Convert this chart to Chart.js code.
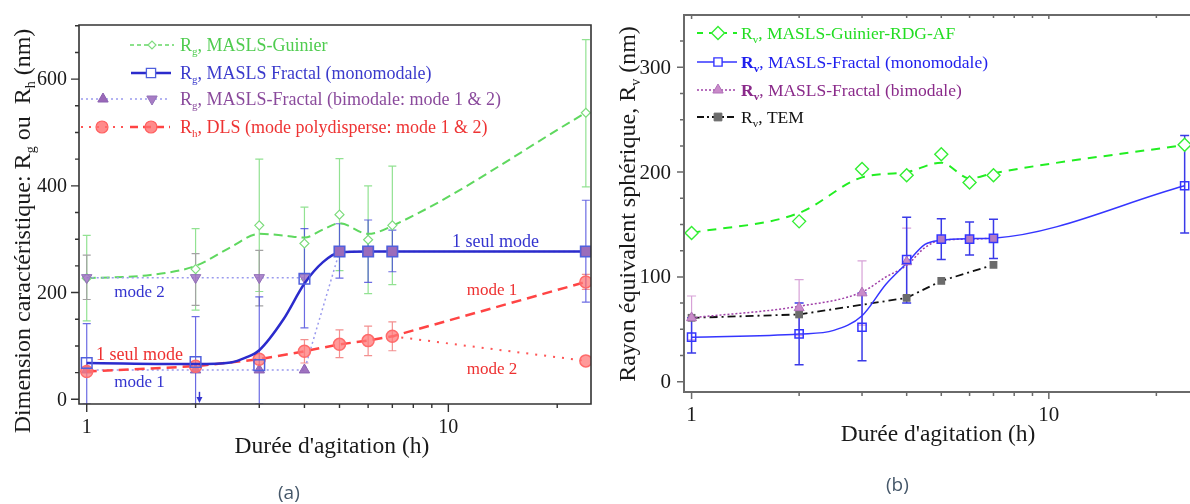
<!DOCTYPE html>
<html>
<head>
<meta charset="utf-8">
<script src="https://cdn.jsdelivr.net/npm/chart.js@4"></script>
<style>
  html, body { margin: 0; padding: 0; background: #fff; overflow: hidden; }
  body { width: 1190px; height: 504px; position: relative; }
  #wa { position: absolute; left: 0; top: 0; width: 600px; height: 504px; }
  #wb { position: absolute; left: 600px; top: 0; width: 600px; height: 504px; }
  .cap { position: absolute; font-family: 'Open Sans', sans-serif; font-size: 19px; color: #46586a; }
</style>
</head>
<body>
<div id="wa"><canvas id="ca"></canvas></div>
<div id="wb"><canvas id="cb"></canvas></div>
<div class="cap" style="left:278px;top:479px">(a)</div>
<div class="cap" style="left:886px;top:471px">(b)</div>

<script>
// agitation times (h)
const hours = [1, 2, 3, 4, 5, 6, 7, 24];
const xTickLabels = [1, 10];
const xMinorTicks = [2, 3, 4, 5, 6, 7, 8, 9, 20];

// ---- panel (a) ----
const aYTicks = [0, 200, 400, 600];
const aGuinier   = [227, 244, 326, 292, 346, 299, 326, 537];
const aGuinierHi = [307, 320, 450, 360, 451, 400, 437, 674];
const aGuinierLo = [147, 167, 202, 224, 241, 198, 215, 398];
const aGuinierCurveX = [1, 1.5, 2, 2.5, 3, 3.5, 4, 4.5, 5, 6, 7, 24];
const aGuinierCurve  = [227, 233, 250, 285, 310, 307, 303, 318, 330, 310, 325, 537];

const aFractal   = [68, 70, 64, 226, 277, 277, 277, 277];
const aFractalHi = [142, 155, 192, 320, 329, 336, 317, 373];
const aFractalLo = [-9, -9, -9, 134, 227, 219, 239, 182];
const aFractalCurveX = [1, 2, 2.5, 2.75, 3, 3.5, 4, 4.5, 5, 6, 7, 24];
const aFractalCurve  = [68, 66, 69, 78, 92, 150, 217, 257, 275, 277, 277, 277];

const aBiHours = [1, 2, 3, 4];
const aBiMode1 = [55, 55, 55, 55];
const aBiMode2 = [228, 228, 228, 228];
const aBiMode2Hi = [270, 273, 279, null];
const aBiMode2Lo = [187, 176, 175, null];
const aBiSingleHours = [5, 6, 7, 24];
const aBiSingle = [277, 277, 277, 277];

const aDlsMode1 = [52, 62, 75, 90, 103, 110, 118, 220];
const aDlsHi = [null, null, null, 112, 130, 137, 145, 234];
const aDlsLo = [null, null, null, 68, 78, 82, 91, 206];
const aDlsMode2Hours = [7, 24];
const aDlsMode2 = [118, 72];

// ---- panel (b) ----
const bYTicks = [0, 100, 200, 300];
const bGuinier = [142, 153, 203, 197, 217, 190, 197, 226];
const bGuinierCurve = [142, 161, 195, 200, 209, 194, 199, 226];

const bFractal   = [42.5, 45.7, 52, 116.6, 136, 136, 136.7, 187];
const bFractalHi = [61, 75, 84.7, 157, 155.6, 152.4, 155, 235];
const bFractalLo = [27.5, 16.3, 20, 75, 116.6, 120.8, 117.6, 142];
const bFractalCurveX = [1, 2, 2.5, 3, 3.5, 4, 4.5, 5, 6, 7, 24];
const bFractalCurve  = [42.5, 45.5, 49, 63, 93, 113, 131, 135, 136.5, 137, 187];

const bBiHours = [1, 2, 3, 4];
const bBimodal   = [61, 70.6, 84.7, 114.4];
const bBimodalHi = [81.8, 97.4, 115.3, 146.6];
const bBimodalLo = [40, 44, 54, 82];
const bBiCurveX = [1, 2, 3, 3.5, 4, 4.5, 5, 6, 7];
const bBiCurve  = [61, 72, 85.6, 100, 111, 128, 135, 136, 137];
const bBiSingleHours = [5, 6, 7];
const bBiSingle = [136, 136, 136.7];

const bTemHours = [1, 2, 4, 5, 7];
const bTem = [61, 64.2, 80, 96.2, 111.5];

const SERIF = "'Liberation Serif', 'Times New Roman', serif";

function pts(xs, ys) {
    return xs.map((x, i) => ({ x: x, y: ys[i] }));
}

function drawMarker(ctx, m, x, y) {
    ctx.save();
    ctx.setLineDash([]);
    ctx.fillStyle = m.fill;
    ctx.strokeStyle = m.stroke;
    ctx.lineWidth = m.lw || 1.5;
    const r = m.r;
    ctx.beginPath();
    if (m.style === 'circle') {
        ctx.arc(x, y, r, 0, Math.PI * 2);
    } else if (m.style === 'rect') {
        const s = r * Math.SQRT1_2;
        ctx.rect(x - s, y - s, 2 * s, 2 * s);
    } else if (m.style === 'rectRot') {
        ctx.moveTo(x - r, y); ctx.lineTo(x, y - r); ctx.lineTo(x + r, y); ctx.lineTo(x, y + r); ctx.closePath();
    } else {
        const d = m.style === 'triDown' ? -1 : 1;
        ctx.moveTo(x, y - d * r); ctx.lineTo(x + r * 0.866, y + d * r / 2); ctx.lineTo(x - r * 0.866, y + d * r / 2); ctx.closePath();
    }
    ctx.fill();
    ctx.stroke();
    ctx.restore();
}

// text with subscripts ('s') and bold ('b')
function rich(ctx, parts, x, y, size, color, center) {
    const font = k => (k.includes('b') ? 'bold ' : '') + (k.includes('s') ? Math.round(size * 0.6) : size) + 'px ' + SERIF;
    let w = 0;
    parts.forEach(p => { ctx.font = font(p[1]); w += ctx.measureText(p[0]).width; });
    let cx = center ? x - w / 2 : x;
    ctx.fillStyle = color;
    ctx.textAlign = 'left';
    ctx.textBaseline = 'alphabetic';
    parts.forEach(p => {
        ctx.font = font(p[1]);
        ctx.fillText(p[0], cx, p[1].includes('s') ? y + size * 0.22 : y);
        cx += ctx.measureText(p[0]).width;
    });
}

const errorBars = {
    id: 'errorBars',
    beforeDatasetsDraw(chart) {
        const { ctx, chartArea: a, scales: { x, y } } = chart;
        ctx.save();
        ctx.beginPath();
        ctx.rect(a.left, a.top, a.right - a.left, a.bottom - a.top);
        ctx.clip();
        chart.data.datasets.slice().reverse().forEach(ds => {
            if (!ds.errHi) return;
            ctx.strokeStyle = ds.errColor;
            ctx.lineWidth = ds.errWidth || 1.2;
            const cap = ds.errCap || 4;
            ds.data.forEach((p, i) => {
                const hi = ds.errHi[i], lo = ds.errLo[i];
                if (hi == null) return;
                const px = x.getPixelForValue(p.x);
                const y1 = y.getPixelForValue(hi), y2 = y.getPixelForValue(lo);
                ctx.beginPath();
                ctx.moveTo(px, y1); ctx.lineTo(px, y2);
                ctx.moveTo(px - cap, y1); ctx.lineTo(px + cap, y1);
                ctx.moveTo(px - cap, y2); ctx.lineTo(px + cap, y2);
                ctx.stroke();
            });
        });
        ctx.restore();
    }
};

function framePlugin(o) {
    return {
        id: 'frame',
        afterDraw(chart) {
            const { ctx, chartArea: a, scales: { x, y } } = chart;
            ctx.save();
            ctx.strokeStyle = o.color;
            ctx.lineWidth = o.width;
            ctx.lineCap = 'square';
            ctx.beginPath();
            ctx.moveTo(a.right, a.top); ctx.lineTo(a.left, a.top); ctx.lineTo(a.left, a.bottom); ctx.lineTo(a.right, a.bottom);
            if (o.box) ctx.lineTo(a.right, a.top);
            ctx.stroke();

            ctx.lineCap = 'butt';
            ctx.lineWidth = o.tickWidth;
            ctx.beginPath();
            xTickLabels.forEach(v => {
                const p = x.getPixelForValue(v);
                ctx.moveTo(p, a.bottom); ctx.lineTo(p, a.bottom + o.major);
                if (o.topTicks) { ctx.moveTo(p, a.top); ctx.lineTo(p, a.top + o.topTicks + 1); }
            });
            xMinorTicks.forEach(v => {
                const p = x.getPixelForValue(v);
                ctx.moveTo(p, a.bottom); ctx.lineTo(p, a.bottom + o.minor);
                if (o.topTicks) { ctx.moveTo(p, a.top); ctx.lineTo(p, a.top + o.topTicks); }
            });
            o.yTicks.forEach(v => {
                const p = y.getPixelForValue(v);
                ctx.moveTo(a.left, p); ctx.lineTo(a.left - o.major, p);
            });
            for (let v = o.yMinorStep; v < y.max; v += o.yMinorStep) {
                if (o.yTicks.includes(v)) continue;
                const p = y.getPixelForValue(v);
                ctx.moveTo(a.left, p); ctx.lineTo(a.left - o.minor, p);
            }
            ctx.stroke();

            ctx.fillStyle = '#1a1a1a';
            ctx.font = o.tickFont + 'px ' + SERIF;
            ctx.textAlign = 'center';
            ctx.textBaseline = 'alphabetic';
            xTickLabels.forEach(v => ctx.fillText(String(v), x.getPixelForValue(v), o.xLabelY));
            ctx.textAlign = 'right';
            ctx.textBaseline = 'middle';
            o.yTicks.forEach(v => ctx.fillText(String(v), a.left - o.yLabelGap, y.getPixelForValue(v) + 1));

            rich(ctx, o.xTitle, (a.left + a.right) / 2 + o.xTitleDx, o.xTitleY, o.titleSize, '#1a1a1a', true);
            ctx.save();
            ctx.translate(o.yTitleX, o.yTitleY);
            ctx.rotate(-Math.PI / 2);
            rich(ctx, o.yTitle, 0, 0, o.yTitleSize, '#1a1a1a', true);
            ctx.restore();
            ctx.restore();
        }
    };
}

function legendPlugin(rows, size) {
    return {
        id: 'rowsLegend',
        afterDraw(chart) {
            const ctx = chart.ctx;
            rows.forEach(row => {
                row.samples.forEach(s => {
                    ctx.save();
                    ctx.strokeStyle = s.color;
                    ctx.lineWidth = s.width;
                    ctx.setLineDash(s.dash);
                    ctx.beginPath();
                    ctx.moveTo(s.x1, row.y); ctx.lineTo(s.x2, row.y);
                    ctx.stroke();
                    ctx.restore();
                    drawMarker(ctx, s.marker, s.mx, row.y);
                });
                rich(ctx, row.text, row.tx, row.y + size * 0.33, size, row.color, false);
            });
        }
    };
}

const xTitle = [["Durée d'agitation (h)", '']];

// ---------------- panel (a) ----------------
const aNotes = [
    { text: '1 seul mode', x: 13.5, y: 294, color: '#3434cf', size: 18 },
    { text: 'mode 2', x: 1.40, y: 201, color: '#3434cf', size: 17 },
    { text: '1 seul mode', x: 1.40, y: 83, color: '#ee3030', size: 18 },
    { text: 'mode 1', x: 1.40, y: 31, color: '#3434cf', size: 17 },
    { text: 'mode 1', x: 13.2, y: 203, color: '#ee3030', size: 17 },
    { text: 'mode 2', x: 13.2, y: 55, color: '#ee3030', size: 17 }
];

const notesPlugin = {
    id: 'notes',
    afterDatasetsDraw(chart) {
        const { ctx, scales: { x, y } } = chart;
        ctx.save();
        ctx.textAlign = 'center';
        ctx.textBaseline = 'middle';
        aNotes.forEach(n => {
            ctx.font = n.size + 'px ' + SERIF;
            ctx.fillStyle = n.color;
            ctx.fillText(n.text, x.getPixelForValue(n.x), y.getPixelForValue(n.y));
        });
        // small arrow near 2 h
        const ax = x.getPixelForValue(2.05);
        const y1 = y.getPixelForValue(14), y2 = y.getPixelForValue(-7);
        ctx.strokeStyle = '#3434cf';
        ctx.fillStyle = '#3434cf';
        ctx.lineWidth = 1.5;
        ctx.beginPath(); ctx.moveTo(ax, y1); ctx.lineTo(ax, y2 - 4); ctx.stroke();
        ctx.beginPath(); ctx.moveTo(ax - 3, y2 - 6); ctx.lineTo(ax + 3, y2 - 6); ctx.lineTo(ax, y2); ctx.closePath(); ctx.fill();
        ctx.restore();
    }
};

const aLegendRows = [
    { y: 45, tx: 180, color: '#4fcc4f', text: [['R', ''], ['g', 's'], [', MASLS-Guinier', '']],
      samples: [{ x1: 130, x2: 174, dash: [4, 3], color: '#66d866', width: 1.5, mx: 152,
                  marker: { style: 'rectRot', r: 4, fill: '#fff', stroke: '#80dc80', lw: 1.2 } }] },
    { y: 73, tx: 180, color: '#3a3acc', text: [['R', ''], ['g', 's'], [', MASLS Fractal (monomodale)', '']],
      samples: [{ x1: 131, x2: 171, dash: [], color: '#2b2bcc', width: 2.5, mx: 151,
                  marker: { style: 'rect', r: 6.5, fill: '#fff', stroke: '#5060dd', lw: 1.3 } }] },
    { y: 99, tx: 180, color: '#8a4a9c', text: [['R', ''], ['g', 's'], [', MASLS-Fractal (bimodale: mode 1 & 2)', '']],
      samples: [{ x1: 81, x2: 124, dash: [2, 3], color: '#9a9aee', width: 1.5, mx: 103,
                  marker: { style: 'triUp', r: 6, fill: '#9a68b8', stroke: '#8a60b0', lw: 1 } },
                { x1: 130, x2: 170, dash: [2, 3], color: '#9a9aee', width: 1.5, mx: 152,
                  marker: { style: 'triDown', r: 6, fill: '#a77cc4', stroke: '#9270b8', lw: 1 } }] },
    { y: 127, tx: 180, color: '#ee3333', text: [['R', ''], ['h', 's'], [', DLS (mode polydisperse: mode 1 & 2)', '']],
      samples: [{ x1: 81, x2: 124, dash: [2, 6], color: '#ff5555', width: 2, mx: 102,
                  marker: { style: 'circle', r: 6, fill: 'rgba(255,110,110,0.8)', stroke: '#ff6060', lw: 1.2 } },
                { x1: 130, x2: 170, dash: [8, 5], color: '#ff4444', width: 2.5, mx: 151,
                  marker: { style: 'circle', r: 6, fill: 'rgba(255,110,110,0.8)', stroke: '#ff6060', lw: 1.2 } }] }
];

new Chart(document.getElementById('ca').getContext('2d'), {
    type: 'scatter',
    data: {
        datasets: [
            {
                data: pts(hours, aFractal), pointStyle: 'rect', pointRadius: 7.5, pointBorderWidth: 1.5,
                pointBorderColor: '#5060dd', pointBackgroundColor: 'rgba(255,255,255,0)',
                errHi: aFractalHi, errLo: aFractalLo, errColor: 'rgba(70,70,220,0.8)', errCap: 4
            },
            {
                data: pts(aBiSingleHours, aBiSingle), pointStyle: 'rect', pointRadius: 7, pointBorderWidth: 1,
                pointBorderColor: '#7e57b0', pointBackgroundColor: '#9b6cbb'
            },
            {
                data: pts(aFractalCurveX, aFractalCurve), showLine: true, pointRadius: 0,
                borderColor: '#2b2bcc', borderWidth: 2.5, cubicInterpolationMode: 'monotone'
            },
            {
                data: pts(hours, aDlsMode1), showLine: true, borderColor: '#ff4444', borderWidth: 2.5, borderDash: [10, 6],
                pointStyle: 'circle', pointRadius: 6, pointBorderWidth: 1.5,
                pointBackgroundColor: 'rgba(255,120,120,0.75)', pointBorderColor: '#ff6b6b',
                errHi: aDlsHi, errLo: aDlsLo, errColor: '#f39090'
            },
            {
                data: pts(aDlsMode2Hours, aDlsMode2), showLine: true, borderColor: '#ff5555', borderWidth: 2, borderDash: [2, 7],
                pointStyle: 'circle', pointRadius: [0, 6], pointBorderWidth: 1.5,
                pointBackgroundColor: 'rgba(255,120,120,0.75)', pointBorderColor: '#ff6b6b'
            },
            {
                data: pts(aBiHours, aBiMode2), showLine: true, borderColor: '#9a9aee', borderWidth: 1.5, borderDash: [2, 3],
                pointStyle: 'triangle', pointRotation: 180, pointRadius: 6, pointBorderWidth: 1,
                pointBackgroundColor: 'rgba(160,115,195,0.85)', pointBorderColor: '#9270b8',
                errHi: aBiMode2Hi, errLo: aBiMode2Lo, errColor: '#a3a3a3'
            },
            {
                data: pts(aBiHours.concat(aBiSingleHours), aBiMode1.concat(aBiSingle)), showLine: true,
                borderColor: '#9a9aee', borderWidth: 1.5, borderDash: [2, 3],
                pointStyle: 'triangle', pointRadius: [6, 6, 6, 6, 0, 0, 0, 0], pointBorderWidth: 1,
                pointBackgroundColor: 'rgba(150,100,185,0.9)', pointBorderColor: '#8a60b0'
            },
            {
                data: pts(hours, aGuinier), pointStyle: 'rectRot', pointRadius: 4.5, pointBorderWidth: 1.2,
                pointBorderColor: '#7cdc7c', pointBackgroundColor: '#fff',
                errHi: aGuinierHi, errLo: aGuinierLo, errColor: '#92e292', errCap: 4
            },
            {
                data: pts(aGuinierCurveX, aGuinierCurve), showLine: true, pointRadius: 0,
                borderColor: '#5fd85f', borderWidth: 2, borderDash: [9, 5], cubicInterpolationMode: 'monotone'
            }
        ]
    },
    options: {
        responsive: true,
        maintainAspectRatio: false,
        animation: false,
        layout: { padding: { left: 0, right: 6, top: 25, bottom: 0 } },
        plugins: { legend: { display: false }, tooltip: { enabled: false } },
        scales: {
            x: {
                type: 'logarithmic', min: 0.952, max: 24.8,
                ticks: { display: false }, grid: { display: false, drawTicks: false }, border: { display: false },
                afterFit: s => { s.height = 100; }
            },
            y: {
                type: 'linear', min: -8.8, max: 701.4,
                ticks: { display: false }, grid: { display: false, drawTicks: false }, border: { display: false },
                afterFit: s => { s.width = 79; }
            }
        }
    },
    plugins: [
        errorBars, notesPlugin,
        framePlugin({
            color: '#333', width: 1.6, tickWidth: 1.4, box: true, major: 8, minor: 4, topTicks: 0,
            yTicks: aYTicks, yMinorStep: 50, tickFont: 20, xLabelY: 433, yLabelGap: 12,
            xTitle: xTitle, xTitleDx: -3, xTitleY: 453, titleSize: 23.5,
            yTitle: [['Dimension caractéristique: R', ''], ['g', 's'], [' ou  R', ''], ['h', 's'], [' (nm)', '']],
            yTitleX: 30, yTitleY: 231, yTitleSize: 24
        }),
        legendPlugin(aLegendRows, 18)
    ]
});

// ---------------- panel (b) ----------------
const bLegendRows = [
    { y: 33, tx: 141, color: '#22dd22', text: [['R', ''], ['v', 's'], [', MASLS-Guinier-RDG-AF', '']],
      samples: [{ x1: 97, x2: 137, dash: [6, 6], color: '#22ee22', width: 2, mx: 118,
                  marker: { style: 'rectRot', r: 6.5, fill: '#fff', stroke: '#33ee33', lw: 1.4 } }] },
    { y: 62, tx: 141, color: '#2020ee', text: [['R', 'b'], ['v', 'bs'], [', MASLS-Fractal (monomodale)', '']],
      samples: [{ x1: 97, x2: 137, dash: [], color: '#3535ff', width: 1.5, mx: 118,
                  marker: { style: 'rect', r: 5.8, fill: '#fff', stroke: '#3535ff', lw: 1.4 } }] },
    { y: 90, tx: 141, color: '#8a2a8a', text: [['R', 'b'], ['v', 'bs'], [', MASLS-Fractal (bimodale)', '']],
      samples: [{ x1: 97, x2: 137, dash: [2, 2], color: '#a040a8', width: 1.5, mx: 118,
                  marker: { style: 'triUp', r: 6, fill: '#c98bc9', stroke: '#b070b8', lw: 1 } }] },
    { y: 117, tx: 141, color: '#111', text: [['R', ''], ['v', 's'], [', TEM', '']],
      samples: [{ x1: 97, x2: 137, dash: [7, 3, 2, 3], color: '#111', width: 1.8, mx: 118,
                  marker: { style: 'rect', r: 5.5, fill: '#6b6b6b', stroke: '#6b6b6b', lw: 1 } }] }
];

new Chart(document.getElementById('cb').getContext('2d'), {
    type: 'scatter',
    data: {
        datasets: [
            {
                data: pts(hours, bFractal), pointStyle: 'rect', pointRadius: 5.8, pointBorderWidth: 1.5,
                pointBorderColor: '#3535ff', pointBackgroundColor: 'rgba(255,255,255,0)',
                errHi: bFractalHi, errLo: bFractalLo, errColor: '#3a3ae8', errWidth: 1.5, errCap: 4.5
            },
            {
                data: pts(bBiSingleHours, bBiSingle), pointStyle: 'rect', pointRadius: 5.5, pointBorderWidth: 0,
                pointBackgroundColor: '#b57bc3'
            },
            {
                data: pts(bBiHours, bBimodal), pointStyle: 'triangle', pointRadius: 5.8, pointBorderWidth: 1,
                pointBorderColor: '#b070b8', pointBackgroundColor: '#c98bc9',
                errHi: bBimodalHi, errLo: bBimodalLo, errColor: '#d7a2d7', errWidth: 1.2, errCap: 4.5
            },
            {
                data: pts(bFractalCurveX, bFractalCurve), showLine: true, pointRadius: 0,
                borderColor: '#3535ff', borderWidth: 1.5, cubicInterpolationMode: 'monotone'
            },
            {
                data: pts(bBiCurveX, bBiCurve), showLine: true, pointRadius: 0,
                borderColor: '#a040a8', borderWidth: 1.5, borderDash: [2, 2], cubicInterpolationMode: 'monotone'
            },
            {
                data: pts(bTemHours, bTem), showLine: true, borderColor: '#111', borderWidth: 1.8, borderDash: [8, 4, 2, 4],
                pointStyle: 'rect', pointRadius: 5.5, pointBorderWidth: 0, pointBackgroundColor: '#6b6b6b'
            },
            {
                data: pts(hours, bGuinier), pointStyle: 'rectRot', pointRadius: 6.5, pointBorderWidth: 1.4,
                pointBorderColor: '#33ee33', pointBackgroundColor: '#fff'
            },
            {
                data: pts(hours, bGuinierCurve), showLine: true, pointRadius: 0,
                borderColor: '#22ee22', borderWidth: 2, borderDash: [9, 7], cubicInterpolationMode: 'monotone'
            }
        ]
    },
    options: {
        responsive: true,
        maintainAspectRatio: false,
        animation: false,
        layout: { padding: { left: 0, right: 0, top: 15, bottom: 0 } },
        plugins: { legend: { display: false }, tooltip: { enabled: false } },
        scales: {
            x: {
                type: 'logarithmic', min: 0.9523, max: 25.18,
                ticks: { display: false }, grid: { display: false, drawTicks: false }, border: { display: false },
                afterFit: s => { s.height = 112; }
            },
            y: {
                type: 'linear', min: -9.8, max: 349.9,
                ticks: { display: false }, grid: { display: false, drawTicks: false }, border: { display: false },
                afterFit: s => { s.width = 84; }
            }
        }
    },
    plugins: [
        errorBars,
        framePlugin({
            color: '#6a6a6a', width: 2, tickWidth: 1.5, box: false, major: 7, minor: 4, topTicks: 3,
            yTicks: bYTicks, yMinorStep: 25, tickFont: 21, xLabelY: 421, yLabelGap: 13,
            xTitle: xTitle, xTitleDx: 0, xTitleY: 441, titleSize: 23.5,
            yTitle: [['Rayon équivalent sphérique, R', ''], ['v', 's'], [' (nm)', '']],
            yTitleX: 35, yTitleY: 204, yTitleSize: 24
        }),
        legendPlugin(bLegendRows, 17.5)
    ]
});
</script>
</body>
</html>
